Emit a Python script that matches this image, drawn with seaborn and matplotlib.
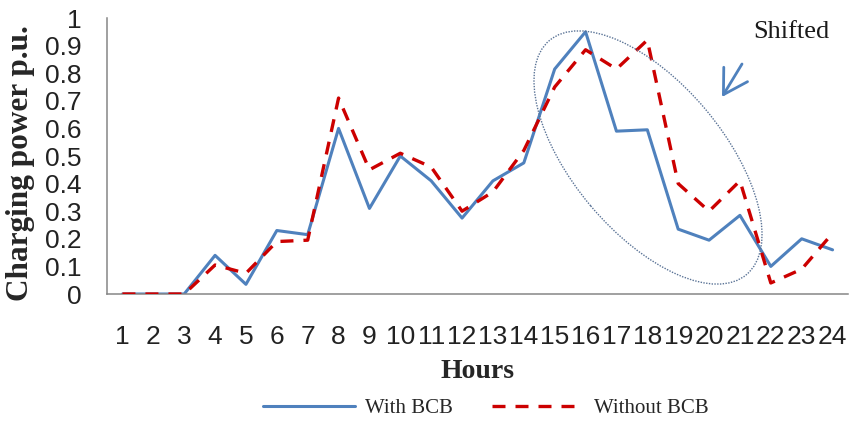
import matplotlib
matplotlib.use("Agg")
import matplotlib.pyplot as plt
from matplotlib.patches import Ellipse
from matplotlib.transforms import IdentityTransform
import numpy as np
import pandas as pd
import seaborn as sns

# Hourly charging power (per unit)
hours = list(range(1, 25))
with_bcb = [0, 0, 0, 0.14, 0.035, 0.23, 0.215, 0.60, 0.31, 0.50, 0.41, 0.275,
            0.41, 0.475, 0.815, 0.95, 0.59, 0.595, 0.235, 0.195, 0.285, 0.10,
            0.20, 0.16]
without_bcb = [0, 0, 0, 0.105, 0.075, 0.19, 0.195, 0.71, 0.45, 0.51, 0.46, 0.30,
               0.37, 0.52, 0.75, 0.885, 0.815, 0.92, 0.40, 0.30, 0.41, 0.04,
               0.09, 0.22]
series_names = ["With BCB", "Without BCB"]
y_ticks = [0, 0.1, 0.2, 0.3, 0.4, 0.5, 0.6, 0.7, 0.8, 0.9, 1]
y_tick_labels = ["0", "0.1", "0.2", "0.3", "0.4", "0.5", "0.6", "0.7", "0.8", "0.9", "1"]

df = pd.DataFrame({
    "Hours": hours * 2,
    "Power": with_bcb + without_bcb,
    "Case": [series_names[0]] * 24 + [series_names[1]] * 24,
})

sns.set_style("white")
plt.rcParams["font.family"] = ["Liberation Sans", "DejaVu Sans"]

W, H = 849, 421
fig = plt.figure(figsize=(W / 100, H / 100), dpi=100)
ax = fig.add_axes([107 / W, 127 / H, (848 - 107) / W, 276 / H])

blue = "#4F81BD"
red = "#CC0000"

sns.lineplot(data=df[df["Case"] == series_names[0]], x="Hours", y="Power",
             color=blue, linewidth=2.2, ax=ax, label=series_names[0], zorder=2)
sns.lineplot(data=df[df["Case"] == series_names[1]], x="Hours", y="Power",
             color=red, linewidth=2.4, ax=ax, label=series_names[1], zorder=3)
ax.lines[1].set_dashes((3.9, 3.0))

ax.set_xlim(0.5, 24.5)
ax.set_ylim(0, 1)

grey = "#868686"
for side in ["top", "right"]:
    ax.spines[side].set_visible(False)
for side in ["left", "bottom"]:
    ax.spines[side].set_color(grey)
    ax.spines[side].set_linewidth(1.1)

# category labels at the centres, tick marks between categories
ax.set_xticks(hours)
ax.set_xticklabels([str(h) for h in hours])
ax.set_xticks(np.arange(0.5, 25, 1), minor=True)
ax.tick_params(axis="x", which="major", length=0, pad=22, labelsize=19, labelcolor="#222222")
ax.tick_params(axis="x", which="minor", length=7, width=1.1, color=grey, direction="out")

ax.set_yticks(y_ticks)
ax.set_yticklabels(y_tick_labels)
ax.tick_params(axis="y", length=7, width=1.1, color=grey, direction="out", pad=11,
               labelsize=19, labelcolor="#222222")

ax.set_xlabel("Hours", fontsize=20, fontweight="bold", family="Liberation Serif")
ax.xaxis.set_label_coords(0.5, -0.235)
ax.set_ylabel("Charging power p.u.", fontsize=22.5, fontweight="bold", family="Liberation Serif")
ax.yaxis.set_label_coords(-0.097, 0.476)

leg = ax.legend(loc="center", bbox_to_anchor=(486 / W, 13 / H), bbox_transform=fig.transFigure,
                ncol=2, frameon=False, handlelength=4.4, handletextpad=0.48,
                columnspacing=1.9, prop={"family": "Liberation Serif", "size": 15})

# dotted ellipse around the evening peak
ell = Ellipse((648, H - 157.5), width=306, height=150, angle=-49.9,
              transform=IdentityTransform(), fill=False, edgecolor="#5A7396",
              linestyle=(0, (1.0, 1.0)), linewidth=1.0, clip_on=False)
fig.add_artist(ell)

ax.annotate("", xy=(722, H - 97), xytext=(742, H - 64), xycoords="figure pixels",
            textcoords="figure pixels",
            arrowprops=dict(arrowstyle="->,head_length=0.85,head_width=0.5",
                            color=blue, lw=2.0, mutation_scale=20,
                            shrinkA=0, shrinkB=0))
fig.text(753 / W, 1 - 32 / H, "Shifted", fontsize=19, family="Liberation Serif",
         color="#1a1a1a", va="center", ha="left")

fig.savefig("out.png", dpi=100)
